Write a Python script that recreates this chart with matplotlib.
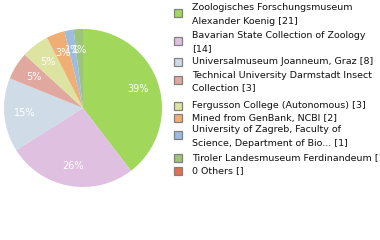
import matplotlib
matplotlib.use("Agg")
import matplotlib.pyplot as plt
from matplotlib.patches import Rectangle


labels = [
    "Zoologisches Forschungsmuseum\nAlexander Koenig [21]",
    "Bavarian State Collection of Zoology\n[14]",
    "Universalmuseum Joanneum, Graz [8]",
    "Technical University Darmstadt Insect\nCollection [3]",
    "Fergusson College (Autonomous) [3]",
    "Mined from GenBank, NCBI [2]",
    "University of Zagreb, Faculty of\nScience, Department of Bio... [1]",
    "Tiroler Landesmuseum Ferdinandeum [1]",
    "0 Others []",
]
counts = [21, 14, 8, 3, 3, 2, 1, 1, 0]
colors = ["#a1d85b", "#dfc0e0", "#cfdbe6", "#e0a89e", "#dde3a0",
          "#f0ae74", "#9dbce0", "#9cc47c", "#e07050"]

W, H = 380, 240
fig = plt.figure(figsize=(W / 100, H / 100), dpi=100)

# pie: centre (83,108) px, radius 79 px
cx, cy, r = 83, 108, 79
ax = fig.add_axes([(cx - r) / W, (H - cy - r) / H, 2 * r / W, 2 * r / H])
ax.pie(counts[:-1], colors=colors[:-1], startangle=90, counterclock=False,
       autopct=lambda p: f"{int(p)}%", pctdistance=0.74,
       wedgeprops=dict(linewidth=0),
       textprops=dict(color="white", fontsize=7, family="DejaVu Sans"))
ax.set_xlim(-1, 1)
ax.set_ylim(-1, 1)
ax.set_aspect("equal")
ax.axis("off")

# legend rows: first-line y (px from top), square next to it
row_y = [8, 36, 62, 75, 106, 118, 130, 158, 171]
sq = 8
for lab, col, y in zip(labels, colors, row_y):
    lines = lab.split("\n")
    for i, line in enumerate(lines):
        fig.text(192 / W, 1 - (y + i * 13) / H, line, fontsize=6.8,
                 color="#111111", va="center", ha="left")
    yc = y + (5 if len(lines) > 1 else 0)
    fig.add_artist(Rectangle(((178 - sq / 2) / W, 1 - (yc + sq / 2) / H),
                             sq / W, sq / H, transform=fig.transFigure,
                             facecolor=col, edgecolor="#808080", linewidth=0.9))

fig.savefig("out.png", dpi=100)
